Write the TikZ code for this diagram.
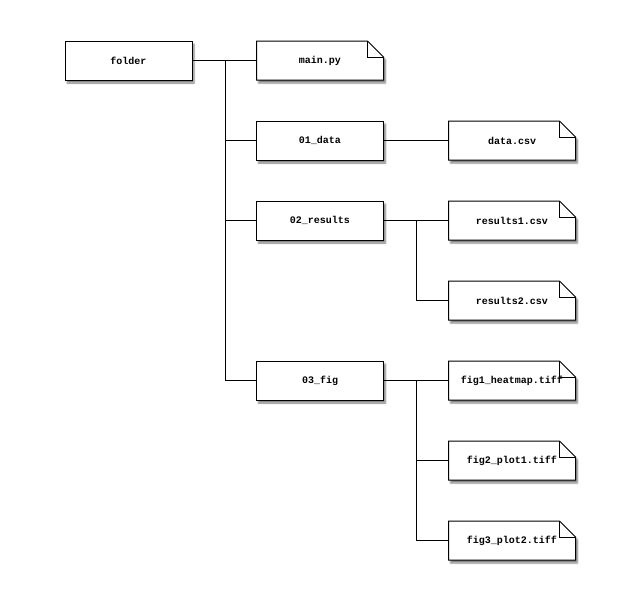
\documentclass[tikz,border=0pt]{standalone}
\usepackage{fontspec}
\setmonofont{Liberation Mono}
\usetikzlibrary{shadows.blur}
\tikzset{
  every node/.style={font=\ttfamily\bfseries\fontsize{10}{12}\selectfont},
  softshadow/.style={blur shadow={shadow xshift=2pt, shadow yshift=-3pt, shadow blur steps=5, shadow opacity=50}},
  dirbox/.style={draw=black, line width=1pt, fill=white, minimum width=127pt, minimum height=39pt, inner sep=0pt, softshadow},
  filenode/.style={minimum width=127pt, minimum height=39pt, inner sep=0pt},
  noteshape/.style={draw=black, line width=1pt, fill=white, softshadow},
  link/.style={line width=1pt, black},
}
\newcommand{\notebox}[4]{%
  \draw[noteshape] (#2-63.5,#3-19.5) -- (#2+63.5,#3-19.5) -- (#2+63.5,#3+3.5)
      -- (#2+47.5,#3+19.5) -- (#2-63.5,#3+19.5) -- cycle;
  \draw[line width=0.6pt] (#2+47.5,#3+19.5) |- (#2+63.5,#3+3.5);
  \node[filenode] (#1) at (#2,#3) {#4};
}
\begin{document}
\begin{tikzpicture}[x=1pt,y=1pt]
\useasboundingbox (0,0) rectangle (640,-600);
\node[dirbox] (folder) at (128.5,-60.5) {folder};
\notebox{mainpy}{320}{-60.5}{main.py}
\node[dirbox] (d01) at (320,-140.5) {01\_data};
\notebox{datacsv}{512}{-140.5}{data.csv}
\node[dirbox] (d02) at (320,-220.5) {02\_results};
\notebox{res1}{512}{-220.5}{results1.csv}
\notebox{res2}{512}{-300.5}{results2.csv}
\node[dirbox] (d03) at (320,-380.5) {03\_fig};
\notebox{fig1}{512}{-380.5}{fig1\_heatmap.tiff}
\notebox{fig2}{512}{-460.5}{fig2\_plot1.tiff}
\notebox{fig3}{512}{-540.5}{fig3\_plot2.tiff}

\coordinate (t0) at (225,-60.5);
\coordinate (b2) at (416,-220.5);
\coordinate (b3) at (416,-380.5);

\draw[link] (folder.east) -- (mainpy.west);
\draw[link] (t0) |- (d01.west);
\draw[link] (t0) |- (d02.west);
\draw[link] (t0) |- (d03.west);
\draw[link] (d01.east) -- (datacsv.west);
\draw[link] (d02.east) -- (res1.west);
\draw[link] (b2) |- (res2.west);
\draw[link] (d03.east) -- (fig1.west);
\draw[link] (b3) |- (fig2.west);
\draw[link] (b3) |- (fig3.west);
\end{tikzpicture}
\end{document}
